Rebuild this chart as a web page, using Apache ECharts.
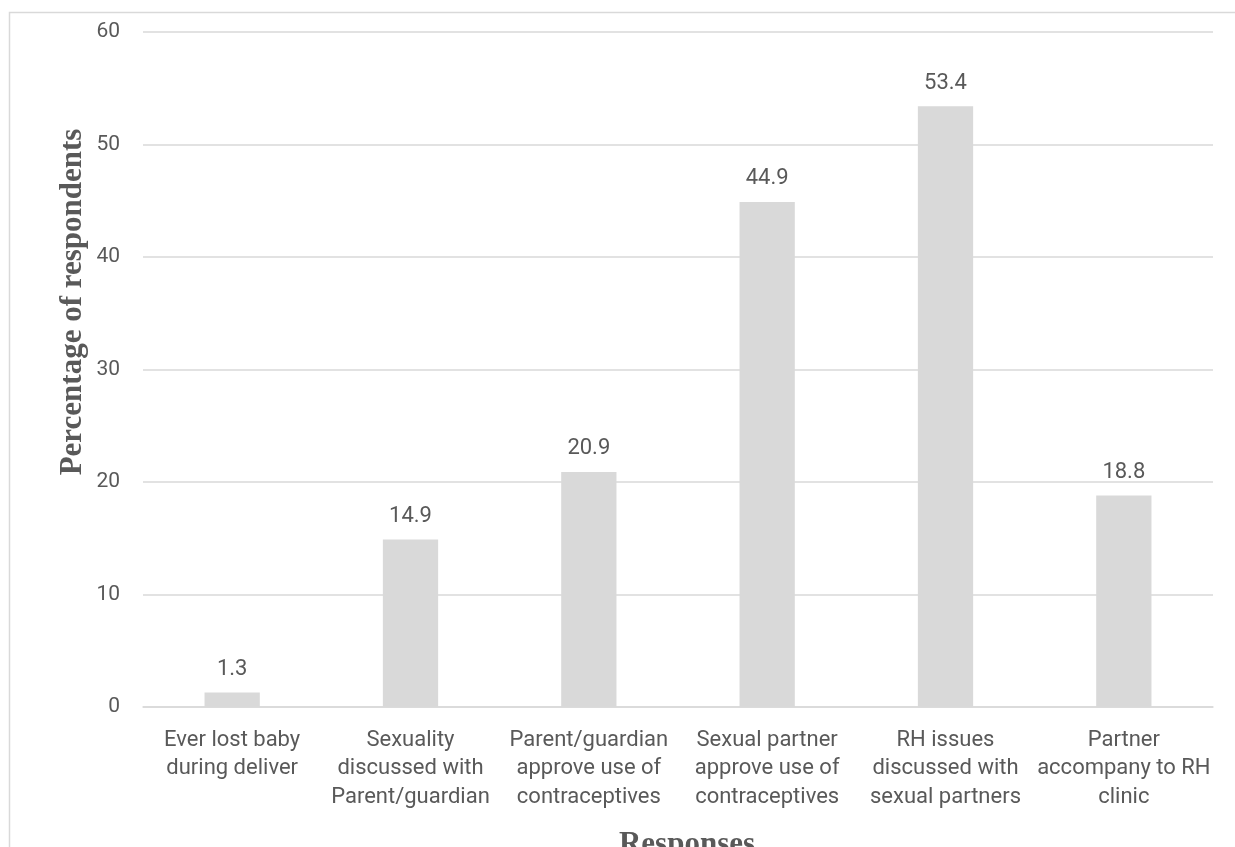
<!DOCTYPE html>
<html>
<head>
<meta charset="utf-8">
<script src="https://cdn.jsdelivr.net/npm/echarts@6/dist/echarts.min.js"></script>
<style>html,body{margin:0;padding:0;background:#fff}#c{width:1235px;height:847px}</style>
</head>
<body>
<div id="c"></div>
<script>
const categories = [
  "Ever lost baby\nduring deliver",
  "Sexuality\ndiscussed with\nParent/guardian",
  "Parent/guardian\napprove use of\ncontraceptives",
  "Sexual partner\napprove use of\ncontraceptives",
  "RH issues\ndiscussed with\nsexual partners",
  "Partner\naccompany to RH\nclinic"
];
const values = [1.3, 14.9, 20.9, 44.9, 53.4, 18.8];
const yTicks = { min: 0, max: 60, interval: 10 };
const xTitle = "Responses";
const yTitle = "Percentage of respondents";

const textColor = '#595959';
const chart = echarts.init(document.getElementById('c'));
chart.setOption({
  animation: false,
  backgroundColor: '#fff',
  grid: { left: 143, right: 22, top: 32, bottom: 140, containLabel: false },
  graphic: [
    { type: 'rect', shape: { x: 9.5, y: 12.5, width: 1300, height: 900 },
      style: { fill: 'none', stroke: '#d9d9d9', lineWidth: 1.5 }, silent: true, z: -1 },
    { type: 'text', x: 73, y: 302, rotation: Math.PI / 2,
      style: { text: yTitle, font: 'bold 31px "Liberation Serif"', fill: textColor,
               textAlign: 'center', textVerticalAlign: 'middle' } },
    { type: 'text', x: 687, y: 845,
      style: { text: xTitle, font: 'bold 31px "Liberation Serif"', fill: textColor,
               textAlign: 'center', textVerticalAlign: 'middle' } }
  ],
  xAxis: {
    type: 'category',
    data: categories,
    axisTick: { show: false },
    axisLine: { lineStyle: { color: '#d9d9d9', width: 1.5 } },
    axisLabel: { color: textColor, fontFamily: 'Roboto', fontSize: 22, lineHeight: 28.5,
                 margin: 19, interval: 0 }
  },
  yAxis: {
    type: 'value',
    min: yTicks.min, max: yTicks.max, interval: yTicks.interval,
    axisLine: { show: false },
    axisTick: { show: false },
    splitLine: { lineStyle: { color: '#d9d9d9', width: 1.5 } },
    axisLabel: { color: textColor, fontFamily: 'Roboto', fontSize: 21, margin: 23 }
  },
  series: [{
    type: 'bar',
    data: values,
    barWidth: '31%',
    itemStyle: { color: '#d9d9d9' },
    label: { show: true, position: 'top', distance: 12, color: textColor,
             fontFamily: 'Roboto', fontSize: 22 }
  }]
});
</script>
</body>
</html>
